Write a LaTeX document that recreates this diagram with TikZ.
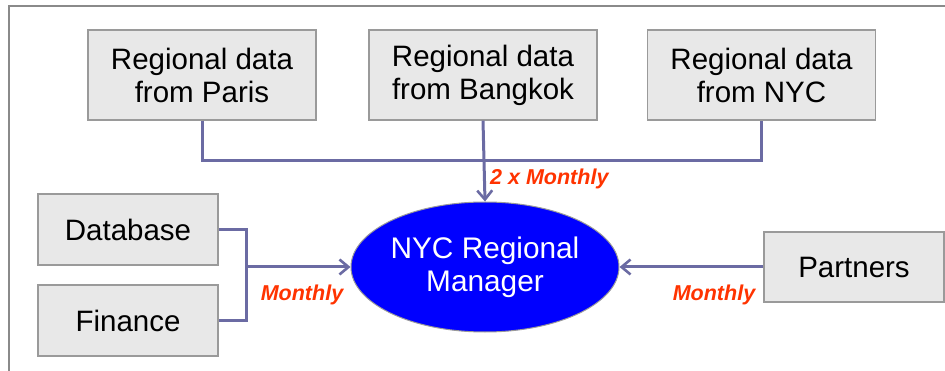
\documentclass[tikz,border=0pt]{standalone}
\usepackage{fontspec}
\setmainfont{Liberation Sans}
\usetikzlibrary{arrows.meta,shapes.geometric}
\definecolor{boxfill}{HTML}{E8E8E8}
\definecolor{boxline}{HTML}{9A9A9A}
\definecolor{wire}{HTML}{6B6BA3}
\definecolor{freq}{HTML}{FF3300}
\definecolor{frameline}{HTML}{8A8A8A}
\tikzset{
  srcbox/.style={draw=boxline, line width=1.2pt, fill=boxfill, align=center,
    font=\fontsize{29.5}{33}\selectfont, inner sep=0pt},
  hub/.style={ellipse, draw=boxline, line width=1pt, fill=blue, text=white,
    align=center, font=\fontsize{29.8}{33}\selectfont, inner sep=0pt},
  wireline/.style={draw=wire, line width=3pt},
  feed/.style={wireline, -{Straight Barb[length=9pt,width=15pt,line width=2.6pt]}},
  freqlabel/.style={text=freq, font=\fontsize{21.5}{24}\bfseries\itshape\selectfont, inner sep=0pt},
}
\begin{document}
\begin{tikzpicture}[x=1pt,y=-1pt]
  \useasboundingbox (0,0) rectangle (945,371);
  % outer frame (top and left edges)
  \draw[frameline, line width=1.6pt] (9,371) -- (9,6) -- (945,6);

  % regional sources
  \node[srcbox, minimum width=228pt, minimum height=90pt] (paris)   at (202,75)   {Regional data\\from Paris};
  \node[srcbox, minimum width=228pt, minimum height=90pt] (bangkok) at (483,75)   {Regional data\\from Bangkok};
  \node[srcbox, minimum width=228pt, minimum height=90pt] (nyc)     at (761.5,75) {Regional data\\from NYC};

  % local sources
  \node[srcbox, minimum width=180pt, minimum height=71pt] (db)       at (128,229.5) {Database};
  \node[srcbox, minimum width=180pt, minimum height=71pt] (fin)      at (128,320.5) {Finance};
  \node[srcbox, minimum width=180pt, minimum height=70pt] (partners) at (854,267)   {Partners};

  % regional manager
  \node[hub, minimum width=268pt, minimum height=130pt] (mgr) at (485,267) {NYC Regional\\Manager};

  % junction points
  \coordinate (top) at (483,161);
  \coordinate (left) at (246,267);

  % regional feeds
  \draw[wireline] (paris.south) |- (top) -| (nyc.south);
  \draw[feed] (bangkok.south) -- (mgr.north);
  \node[freqlabel, anchor=west] (twice) at (490,179) {2 x Monthly};

  % local feeds
  \draw[wireline] (db.east) -| (left) |- (fin.east);
  \draw[feed] (left) -- (mgr.west);
  \node[freqlabel] (mleft) at (302,295) {Monthly};

  % partner feed
  \draw[feed] (partners.west) -- (mgr.east);
  \node[freqlabel] (mright) at (714,295) {Monthly};
\end{tikzpicture}
\end{document}
